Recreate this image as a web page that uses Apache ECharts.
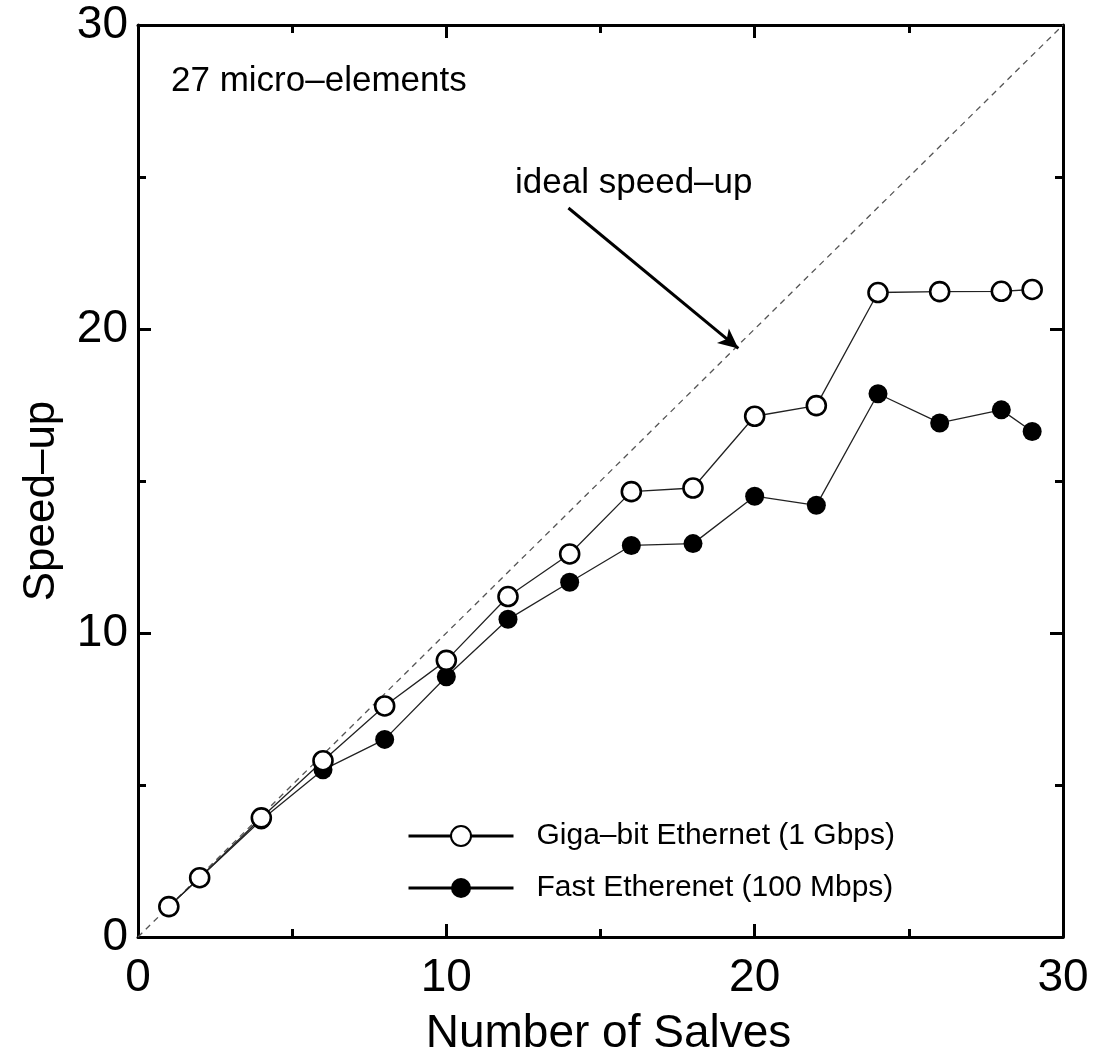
<!DOCTYPE html>
<html>
<head>
<meta charset="utf-8">
<script src="https://cdn.jsdelivr.net/npm/echarts@6/dist/echarts.min.js"></script>
<style>
html,body{margin:0;padding:0;background:#fff;}
#chart{width:1093px;height:1062px;}
</style>
</head>
<body>
<div id="chart"></div>
<script>
const slaves = [1, 2, 4, 6, 8, 10, 12, 14, 16, 18, 20, 22, 24, 26, 28, 29];
const gigaSpeedup = [1.0, 1.95, 3.92, 5.8, 7.6, 9.1, 11.2, 12.6, 14.65, 14.77, 17.13, 17.48, 21.2, 21.23, 21.24, 21.3];
const fastSpeedup = [1.0, 1.95, 3.85, 5.5, 6.5, 8.56, 10.45, 11.67, 12.88, 12.94, 14.5, 14.2, 17.87, 16.91, 17.34, 16.63];
const idealX = [0, 30];
const idealY = [0, 30];
const arrowFrom = [13.96, 23.98];
const arrowTo = [19.47, 19.36];
const arrowLabelAt = [16.08, 23.88];
const gigaName = 'Giga–bit Ethernet (1 Gbps)';
const fastName = 'Fast Etherenet (100 Mbps)';
const xTitle = 'Number of Salves';
const yTitle = 'Speed–up';
const noteText = '27 micro–elements';
const arrowText = 'ideal speed–up';

const FONT = "'Liberation Sans', Arial, Helvetica, sans-serif";
const zip = (a, b) => a.map((v, i) => [v, b[i]]);

const chart = echarts.init(document.getElementById('chart'), null, {renderer: 'canvas'});

function axisCommon(showLabel) {
  return {
    type: 'value', min: 0, max: 30, interval: 10,
    axisLine: {show: true, onZero: false, lineStyle: {color: '#000', width: 3}},
    axisTick: {show: true, inside: true, length: 13, lineStyle: {color: '#000', width: 3}},
    minorTick: {show: true, splitNumber: 2, length: 8, lineStyle: {color: '#000', width: 3}},
    splitLine: {show: false},
    axisLabel: {show: showLabel, color: '#000', fontSize: 46, fontFamily: FONT}
  };
}

const option = {
  animation: false,
  backgroundColor: '#fff',
  grid: {left: 138, right: 30, top: 25, bottom: 111, containLabel: false},
  xAxis: [
    Object.assign(axisCommon(true), {
      position: 'bottom',
      name: xTitle, nameLocation: 'middle', nameGap: 74,
      nameTextStyle: {color: '#000', fontSize: 46, fontFamily: FONT, padding: [0, 0, 0, 16]},
      axisLabel: {show: true, color: '#000', fontSize: 46, fontFamily: FONT, margin: 18}
    }),
    Object.assign(axisCommon(false), {position: 'top'})
  ],
  yAxis: [
    Object.assign(axisCommon(true), {
      position: 'left',
      name: yTitle, nameLocation: 'middle', nameGap: 74,
      nameTextStyle: {color: '#000', fontSize: 44, fontFamily: FONT, padding: [0, 40, 0, 0]},
      axisLabel: {show: true, color: '#000', fontSize: 46, fontFamily: FONT, margin: 10}
    }),
    Object.assign(axisCommon(false), {position: 'right'})
  ],
  legend: {
    data: [gigaName, fastName],
    orient: 'vertical',
    left: 407, top: 821, padding: 0,
    itemWidth: 105, itemHeight: 25, itemGap: 22,
    lineStyle: {width: 3, color: '#000'},
    textStyle: {color: '#000', fontSize: 30, fontFamily: FONT, padding: [0, 0, 0, 18]},
    selectedMode: false
  },
  graphic: [
    {type: 'text', left: 171, top: 64, style: {text: noteText, fill: '#000', font: "35px " + FONT}},
  ],
  series: [
    {
      name: 'ideal', type: 'line', xAxisIndex: 0, yAxisIndex: 0,
      data: zip(idealX, idealY), symbol: 'none', silent: true,
      lineStyle: {color: '#555', width: 1.3, type: [6, 5]},
      markLine: {
        silent: true, symbol: ['none', 'arrow'], symbolSize: [14, 20],
        lineStyle: {color: '#000', width: 3, type: 'solid'},
        label: {show: false},
        data: [[{coord: arrowFrom}, {coord: arrowTo}]]
      },
      markPoint: {
        silent: true, symbol: 'rect', symbolSize: 1,
        itemStyle: {color: 'rgba(0,0,0,0)'},
        label: {show: true, position: 'top', distance: 10, formatter: arrowText, color: '#000', fontSize: 35, fontFamily: FONT},
        data: [{coord: arrowLabelAt}]
      }
    },
    {
      name: fastName, type: 'line', xAxisIndex: 0, yAxisIndex: 0,
      data: zip(slaves, fastSpeedup),
      symbol: 'circle', symbolSize: 19,
      itemStyle: {color: '#000', borderColor: '#000', borderWidth: 0},
      lineStyle: {color: '#222', width: 1.3}
    },
    {
      name: gigaName, type: 'line', xAxisIndex: 0, yAxisIndex: 0,
      data: zip(slaves, gigaSpeedup),
      symbol: 'circle', symbolSize: 19,
      itemStyle: {color: '#fff', borderColor: '#000', borderWidth: 2.6},
      lineStyle: {color: '#222', width: 1.3}
    }
  ]
};
chart.setOption(option);
</script>
</body>
</html>
